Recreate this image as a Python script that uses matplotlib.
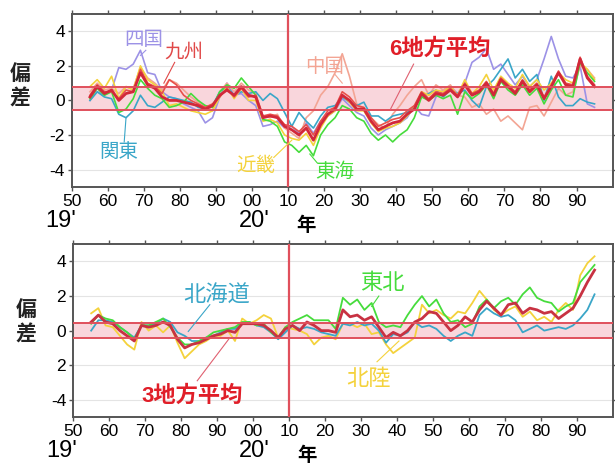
import numpy as np
import matplotlib
matplotlib.use('Agg')
import matplotlib.pyplot as plt

plt.rcParams['font.family'] = ['Liberation Sans', 'Noto Sans CJK JP', 'DejaVu Sans']

years = np.arange(1955, 2096, 2)

# 上段：6地方
avg6 = [0.2, 0.8, 0.4, 0.6, 0.0, 0.4, 0.5, 1.6, 0.9, 0.7,
        0.2, 0.0, 0.0, -0.1, -0.2, -0.3, -0.5, -0.3, 0.3, 0.6,
        0.3, 0.8, 0.3, 0.2, -1.0, -0.9, -1.0, -1.5, -1.7, -2.0,
        -1.6, -2.3, -1.4, -0.8, -0.5, 0.3, 0.0, -0.5, -0.5, -1.2,
        -1.7, -1.5, -1.3, -1.2, -0.8, -0.5, 0.4, 0.0, 0.4, 0.3,
        0.6, 0.2, 0.9, 0.3, 0.5, 1.0, 0.3, 1.2, 0.8, 0.4,
        1.1, 0.5, 0.9, 0.1, 0.8, 1.6, 0.9, 0.8, 2.4, 1.3,
        0.8]
shikoku = [0.0, 0.5, 0.3, 0.6, 1.9, 1.8, 2.1, 2.9, 1.6, 1.5,
           0.5, 0.2, 0.1, -0.2, -0.4, -0.6, -1.3, -1.0, 0.2, 1.0,
           0.3, 0.4, 0.0, -0.3, -1.5, -1.4, -1.2, -1.6, -1.5, -1.9,
           -1.3, -1.9, -1.2, -0.9, -0.6, 0.1, -0.3, -0.7, -0.9, -1.6,
           -2.0, -1.7, -1.5, -1.3, -1.0, -0.3, -0.8, -0.9, 0.2, 0.6,
           0.8, 0.4, 1.0, 2.2, 2.5, 3.0, 1.8, 2.1, 1.5, 0.9,
           1.4, 0.8, 1.2, 2.4, 3.7, 2.4, 1.4, 1.3, 2.0, -0.2,
           -0.4]
kyushu = [0.3, 0.9, 0.5, 0.5, 0.1, 0.6, 0.5, 1.8, 1.0, 0.8,
          0.4, 1.2, 0.9, 0.3, 0.0, -0.2, -0.4, -0.2, 0.2, 0.7,
          0.2, 0.7, 0.2, 0.3, -0.9, -0.8, -0.9, -1.4, -1.5, -1.8,
          -1.4, -2.0, -1.2, -0.6, -0.4, 0.5, 0.2, -0.3, -0.4, -1.0,
          -1.5, -1.3, -1.1, -1.0, -0.6, -0.3, 0.5, 0.1, 0.5, 0.4,
          0.7, 0.3, 1.0, 0.4, 0.6, 1.1, 0.4, 1.3, 0.9, 0.5,
          1.2, 0.6, 1.0, 0.2, 0.9, 1.7, 1.0, 0.9, 2.5, 1.4,
          0.9]
chugoku = [0.5, 1.0, 0.6, 0.7, 0.4, 0.8, 0.7, 1.9, 1.3, 1.0,
           0.6, 1.2, 1.0, 0.6, 0.2, -0.1, -0.3, -0.6, 0.5, 1.0,
           0.5, 1.0, 0.6, 0.4, -0.9, -1.0, -0.8, -1.6, -1.9, -2.2,
           -1.0, -0.6, 0.3, 0.8, 1.6, 2.7, 1.4, -0.2, -0.5, -1.0,
           -1.4, -1.6, -0.8, -0.3, 0.3, 0.8, 1.2, 0.3, 0.9, 0.6,
           0.9, 0.3, 0.2, -0.4, -0.2, -0.8, -0.5, -1.2, -0.9, -1.3,
           -1.7, -0.4, -0.3, -0.9, -0.1, 0.7, 0.3, 0.5, 2.0, 1.8,
           1.3]
kanto = [0.0, 0.5, 0.2, 0.1, -0.8, -1.0, -0.6, 0.3, -0.3, -0.4,
         -0.1, 0.2, 0.1, 0.0, -0.1, -0.4, -0.5, -0.3, 0.5, 0.8,
         0.3, 0.5, 0.4, 0.5, 0.0, 0.4, 0.1, -0.7, -1.5, -0.7,
         -1.2, -1.6, -0.9, -0.4, -0.3, 0.2, -0.1, -0.3, -0.1, -0.9,
         -0.9, -1.2, -0.9, -0.8, -0.7, -0.4, 0.2, 0.4, 0.6, 0.2,
         0.6, 0.4, 0.6, 0.0, -0.4, 0.8, 1.2, 1.8, 2.4, 1.3,
         1.8, 1.1, 1.5, 0.0, 1.4, 0.2, -0.3, -0.3, 0.1, -0.1,
         -0.2]
kinki = [0.8, 1.2, 0.7, 1.4, 0.1, 0.8, 0.6, 2.0, 1.2, 0.9,
         0.5, -0.3, -0.2, -0.4, -0.6, -0.7, -0.8, -0.6, 0.2, 0.8,
         0.1, 0.7, 0.0, 0.0, -1.2, -1.1, -1.3, -2.0, -2.2, -2.3,
         -1.9, -2.6, -1.6, -0.9, -0.6, 0.3, -0.1, -0.6, -0.6, -1.3,
         -1.8, -1.6, -1.5, -1.3, -0.9, -0.4, 0.5, 0.3, 0.6, 0.5,
         0.8, 0.3, 1.2, 0.4, 0.8, 1.5, 0.6, 1.4, 1.0, 0.7,
         1.5, 0.8, 1.2, 0.6, 1.0, 1.6, 1.2, 1.0, 2.2, 1.8,
         1.2]
tokai = [0.1, 0.7, 0.3, 0.5, -0.7, -0.5, 0.1, 1.2, 0.7, 0.3,
         0.1, -0.4, -0.3, -0.1, 0.4, 0.0, -0.3, -0.4, 0.5, 0.9,
         0.7, 1.3, 0.8, 0.3, -1.1, -1.2, -1.5, -2.4, -2.6, -3.0,
         -2.6, -3.2, -2.0, -1.4, -1.0, -0.3, -0.5, -1.0, -1.2, -1.9,
         -2.3, -2.0, -2.4, -2.0, -1.7, -1.0, 0.2, 0.0, 0.3, 0.1,
         0.3, -0.8, 0.5, 0.1, 0.4, 0.9, 0.1, 1.1, 0.6, 0.3,
         0.9, 0.3, 0.7, -0.2, 0.6, 1.2, 0.3, 0.2, 2.2, 1.6,
         1.1]

# 下段：3地方
avg3 = [0.5, 0.9, 0.5, 0.4, 0.0, -0.3, -0.6, 0.3, 0.2, 0.3,
        0.5, 0.3, -0.5, -1.0, -0.8, -0.7, -0.5, -0.3, -0.2, 0.0,
        -0.1, 0.4, 0.4, 0.4, 0.3, 0.0, -0.4, 0.1, 0.3, 0.0,
        0.5, 0.3, 0.0, 0.0, -0.1, 1.2, 0.8, 0.9, 0.6, 0.8,
        0.2, -0.4, -0.1, -0.3, 0.0, 0.5, 0.7, 1.1, 1.0, 0.5,
        0.0, 0.3, 0.8, 0.5, 1.2, 1.7, 1.3, 0.9, 1.5, 1.6,
        1.0, 1.3, 1.2, 1.0, 1.1, 0.7, 1.0, 1.3, 2.0, 2.8,
        3.5]
hokkaido = [0.0, 0.6, 0.6, 0.5, 0.2, -0.1, -0.4, 0.3, 0.3, 0.4,
            0.7, 0.5, -0.1, -0.3, -0.6, -0.6, -0.4, -0.3, -0.1, 0.1,
            0.1, 0.4, 0.5, 0.3, 0.2, -0.1, -0.5, -0.1, 0.3, 0.1,
            0.2, 0.1, -0.1, -0.2, -0.3, 0.4, 0.3, 0.5, 0.3, 0.4,
            0.0, -0.7, -0.2, -0.3, -0.1, 0.5, 0.2, 0.3, 0.1, -0.3,
            -0.6, -0.3, -0.1, -0.3, 0.9, 1.3, 1.0, 0.8, 0.9, 0.6,
            -0.1, 0.1, 0.3, 0.0, 0.1, 0.2, 0.1, 0.3, 0.7, 1.2,
            2.1]
tohoku = [0.4, 0.9, 0.7, 0.6, 0.2, -0.1, -0.5, 0.3, 0.3, 0.5,
          0.7, 0.2, -0.4, -0.8, -0.8, -0.6, -0.4, -0.1, 0.0, 0.1,
          0.2, 0.5, 0.5, 0.3, 0.4, -0.1, -0.4, 0.2, 0.5, 0.7,
          0.9, 0.6, 0.6, 0.6, 0.1, 1.9, 1.5, 1.8, 1.2, 1.6,
          0.5, 0.2, 0.3, 0.2, 0.9, 1.5, 2.0, 1.4, 1.8, 1.0,
          0.5, 0.6, 0.2, 0.4, 1.4, 1.8, 1.3, 1.7, 1.9, 1.5,
          2.1, 2.5, 1.9, 1.7, 1.6, 1.1, 1.4, 1.6, 2.8, 3.3,
          3.8]
hokuriku = [1.0, 1.3, 0.3, 0.2, -0.3, -0.8, -1.1, 0.5, 0.0, 0.3,
            -0.1, 0.3, -0.7, -1.6, -1.2, -0.8, -0.6, -0.3, -0.3, 0.0,
            -0.6, 0.7, 0.4, 0.6, 0.9, 0.7, -0.4, 0.2, 0.1, 0.0,
            -0.2, -0.8, -0.4, -0.3, -0.5, 0.4, 0.4, 0.2, 0.4, -0.2,
            -0.1, -0.8, -1.3, -1.0, -0.7, -0.4, 1.5, 1.0, 1.2, 0.9,
            0.7, 1.1, 1.0, 1.6, 2.3, 1.8, 1.2, 0.9, 1.2, 1.4,
            0.8, 1.1, 0.6, 0.8, 0.5, 1.2, 1.6, 1.2, 3.2, 3.9,
            4.3]

xticks = np.arange(1950, 2091, 10)
xticklabels = ['50', '60', '70', '80', '90', '00', '10', '20', '30',
               '40', '50', '60', '70', '80', '90']
yticks = [4, 2, 0, -2, -4]
top_ylabels = ['4', '2', '0', '-2', '-4']
bot_ylabels = ['4', '2', '0', '2', '-4']

top_series = [
    (shikoku, '#9c92e6'),
    (chugoku, '#f3a594'),
    (kanto, '#3aa6c8'),
    (kinki, '#f4d23c'),
    (tokai, '#46dc3c'),
    (kyushu, '#e8504a'),
]
bot_series = [
    (hokuriku, '#f4d23c'),
    (hokkaido, '#3aa6c8'),
    (tohoku, '#46dc3c'),
]

fig = plt.figure(figsize=(6.15, 4.66), dpi=100)
ax1 = fig.add_axes([0.117, 0.599, 0.879, 0.371])
ax2 = fig.add_axes([0.119, 0.105, 0.877, 0.371])


def style_axis(ax, band, ylabels, lab_x, lab_y):
    ax.set_xlim(1950, 2100)
    ax.set_ylim(-5, 5)
    for y in yticks:
        ax.axhline(y, color='#e4e4e4', lw=0.8, zorder=0)
    ax.axhspan(band[0], band[1], facecolor='#f9d6dc', edgecolor='none', zorder=1)
    ax.axhline(band[0], color='#e0505c', lw=1.4, zorder=4)
    ax.axhline(band[1], color='#e0505c', lw=1.4, zorder=4)
    ax.axvline(2010, color='#e0505c', lw=1.6, zorder=4)
    ax.set_xticks(xticks)
    ax.set_xticklabels(xticklabels, fontsize=12.5)
    ax.set_yticks(yticks)
    ax.set_yticklabels(ylabels, fontsize=12.5)
    ax.tick_params(axis='both', length=3, width=1, color='#555555', pad=2,
                   top=True, right=True, direction='out')
    for s in ax.spines.values():
        s.set_color('#555555')
        s.set_linewidth(1.4)
    ax.text(lab_x, lab_y, '偏\n差', transform=ax.transAxes, fontsize=15,
            ha='center', va='center', linespacing=1.3, fontweight='bold',
            color='#222222')


style_axis(ax1, (-0.55, 0.75), top_ylabels, -0.096, 0.58)
style_axis(ax2, (-0.42, 0.45), bot_ylabels, -0.087, 0.55)

for vals, col in top_series:
    ax1.plot(years, vals, color=col, lw=1.2, zorder=2)
ax1.plot(years, avg6, color='#d2283a', lw=2.0, zorder=3)

for vals, col in bot_series:
    ax2.plot(years, vals, color=col, lw=1.3, zorder=2)
ax2.plot(years, avg3, color='#c83242', lw=2.0, zorder=3)

# 地域名ラベル
top_labels = [
    ('四国', 1970, 3.45, '#9c92e6', (1970.5, 2.9), (1969, 2.6)),
    ('九州', 1981, 2.75, '#e04848', (1978.5, 2.2), (1975.5, 1.0)),
    ('関東', 1963, -3.0, '#3aa6c8', (1964.5, -2.4), (1965, -1.0)),
    ('近畿', 2001, -3.75, '#f4d23c', (2006, -3.3), (2011, -2.3)),
    ('東海', 2023, -4.1, '#46dc3c', (2018, -3.6), (2016, -3.1)),
    ('中国', 2020, 1.95, '#f3a594', (2023, 1.5), (2025, 1.0)),
]
for txt, x, y, col, p0, p1 in top_labels:
    ax1.text(x, y, txt, color=col, fontsize=14, ha='center', va='center', zorder=6)
    ax1.plot([p0[0], p1[0]], [p0[1], p1[1]], color=col, lw=0.8, zorder=5)

ax1.text(2052, 2.95, '6地方平均', color='#e01e28', fontsize=16, fontweight='bold',
         ha='center', va='center', zorder=6)
ax1.plot([2044.8, 2038.4], [2.1, -0.5], color='#e06070', lw=0.8, zorder=5)

bot_labels = [
    ('北海道', 1990, 2.0, '#3aa6c8', (1988, 1.5), (1982, -0.05)),
    ('東北', 2036, 2.75, '#46dc3c', (2035, 2.0), (2033, 1.4)),
    ('北陸', 2032, -2.8, '#f4d23c', (2034.5, -1.8), (2040.6, -0.6)),
]
for txt, x, y, col, p0, p1 in bot_labels:
    ax2.text(x, y, txt, color=col, fontsize=16, ha='center', va='center', zorder=6)
    ax2.plot([p0[0], p1[0]], [p0[1], p1[1]], color=col, lw=0.8, zorder=5)

ax2.text(1983, -3.8, '3地方平均', color='#e01e28', fontsize=16, fontweight='bold',
         ha='center', va='center', zorder=6)
ax2.plot([1984.5, 1993.6], [-2.9, -0.4], color='#e06070', lw=0.8, zorder=5)

# 年代の表示
for ax in (ax1, ax2):
    ax.text(1942.5, -6.35, "19'", fontsize=17, ha='left', va='top', clip_on=False)
    ax.text(2000.5, -6.35, "20'", fontsize=17, ha='center', va='top', clip_on=False)
    ax.text(2015, -6.7, '年', fontsize=14, ha='center', va='top',
            fontweight='bold', clip_on=False)

fig.savefig('out.png', dpi=100)
